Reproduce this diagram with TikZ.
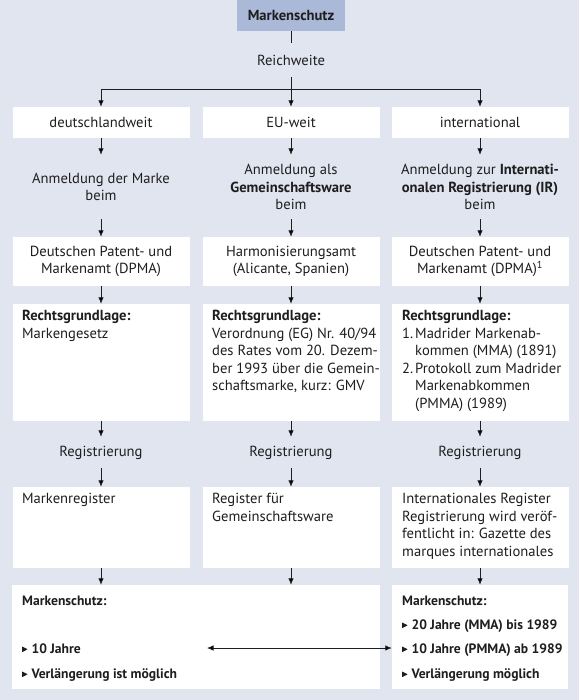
\documentclass[tikz,border=0pt]{standalone}
\usepackage{fontspec}
\setmainfont{PT Sans}
\usetikzlibrary{arrows.meta}
\definecolor{bgc}{RGB}{225,229,240}
\definecolor{topc}{RGB}{170,185,215}
\definecolor{txtc}{RGB}{30,30,30}
\newcommand{\bul}{\tikz[baseline=0pt]\fill[txtc] (0pt,0.9pt) -- (0pt,6.5pt) -- (5.4pt,3.7pt) -- cycle;\hspace{4pt}}
\newcommand{\ind}{\hspace*{13pt}}
\newcommand{\lab}[1]{\makebox[13pt][l]{#1}}
\newcommand{\bsz}{\fontsize{13.6}{17.5}\selectfont}
\begin{document}
\fontsize{14.6}{17.5}\selectfont
\begin{tikzpicture}[x=1pt,y=-1pt,
  box/.style={fill=white, inner sep=0pt, minimum width=177pt, align=center, text=txtc},
  lbl/.style={inner sep=0pt, minimum width=177pt, align=center, text=txtc},
  txt/.style={inner sep=0pt, align=left, anchor=north west, text=txtc},
  btxt/.style={inner sep=0pt, anchor=base west, text=txtc},
  arr/.style={-{Latex[length=6.5pt,width=5.5pt]}, line width=0.8pt, draw=txtc},
  dbl/.style={{Latex[length=6.5pt,width=5.5pt]}-{Latex[length=6.5pt,width=5.5pt]}, line width=0.8pt, draw=txtc},
  ln/.style={line width=0.8pt, draw=txtc}]
\fill[bgc] (0,0) rectangle (579,700);
\useasboundingbox (0,0) rectangle (579,700);

% top
\node[fill=topc, inner sep=0pt, minimum width=108pt, minimum height=31pt, text=txtc] (mk) at (291,15.5) {\textbf{Markenschutz}};
\node[lbl, minimum height=34pt] (rw) at (291,60) {Reichweite};
\coordinate (split) at (291,89);

% row 1
\node[box, minimum height=31pt] (r1a) at (101,122.5) {deutschlandweit};
\node[box, minimum height=31pt] (r1b) at (291,122.5) {EU-weit};
\node[box, minimum height=31pt] (r1c) at (480,122.5) {international};

% Anmeldung
\node[lbl, minimum height=64pt] (ana) at (101,187) {Anmeldung der Marke\\beim};
\node[lbl, minimum height=64pt] (anb) at (291,187) {Anmeldung als\\\textbf{Gemeinschaftsware}\\beim};
\node[lbl, minimum height=64pt] (anc) at (480,187) {Anmeldung zur \textbf{Internati-}\\\textbf{onalen Registrierung (IR)}\\beim};

% row 2
\node[box, minimum height=49pt] (r2a) at (101,261.5) {Deutschen Patent- und\\Markenamt (DPMA)};
\node[box, minimum height=49pt] (r2b) at (291,261.5) {Harmonisierungsamt\\(Alicante, Spanien)};
\node[box, minimum height=49pt] (r2c) at (480,261.5) {Deutschen Patent- und\\Markenamt (DPMA)\textsuperscript{1}};

% row 3
\node[box, minimum height=117pt] (r3a) at (101,362.5) {};
\node[box, minimum height=117pt] (r3b) at (291,362.5) {};
\node[box, minimum height=117pt] (r3c) at (480,362.5) {};
\node[txt] (t3a) at (22,310) {\textbf{Rechtsgrundlage:}\\Markengesetz};
\node[txt] (t3b) at (212,310) {\textbf{Rechtsgrundlage:}\\Verordnung (EG) Nr. 40/94\\des Rates vom 20. Dezem-\\ber 1993 über die Gemein-\\schaftsmarke, kurz: GMV};
\node[txt] (t3c) at (402,310) {\textbf{Rechtsgrundlage:}\\\lab{1.}Madrider Markenab-\\\ind kommen (MMA) (1891)\\\lab{2.}Protokoll zum Madrider\\\ind Markenabkommen\\\ind (PMMA) (1989)};

% Registrierung
\node[lbl, minimum height=31pt] (rga) at (101,452.5) {Registrierung};
\node[lbl, minimum height=31pt] (rgb) at (291,452.5) {Registrierung};
\node[lbl, minimum height=31pt] (rgc) at (480,452.5) {Registrierung};

% row 4
\node[box, minimum height=81pt] (r4a) at (101,527.5) {};
\node[box, minimum height=81pt] (r4b) at (291,527.5) {};
\node[box, minimum height=81pt] (r4c) at (480,527.5) {};
\node[txt] (t4a) at (22,493) {Markenregister};
\node[txt] (t4b) at (212,493) {Register für\\Gemeinschaftsware};
\node[txt] (t4c) at (402,493) {Internationales Register\\Registrierung wird veröf-\\fentlicht in: Gazette des\\marques internationales};

% row 5
\node[box, minimum width=368pt, minimum height=104pt] (r5a) at (196,637) {};
\node[box, minimum width=176pt, minimum height=104pt] (r5c) at (480,637) {};
\node[btxt] (m5a) at (22,605) {\bsz\textbf{Markenschutz:}};
\node[btxt] (b5a1) at (22,653) {\bsz\bul\textbf{10 Jahre}};
\node[btxt] (b5a2) at (22,678) {\bsz\bul\textbf{Verlängerung ist möglich}};
\node[btxt] (m5c) at (402,605) {\bsz\textbf{Markenschutz:}};
\node[btxt] (b5c1) at (402,629) {\bsz\bul\textbf{20 Jahre (MMA) bis 1989}};
\node[btxt] (b5c2) at (402,653) {\bsz\bul\textbf{10 Jahre (PMMA) ab 1989}};
\node[btxt] (b5c3) at (402,678) {\bsz\bul\textbf{Verlängerung möglich}};

% connectors
\draw[ln] (mk.south) -- (rw.north);
\draw[arr] (rw.south) -- (r1b.north);
\draw[arr] (split) -| (r1a.north);
\draw[arr] (split) -| (r1c.north);
\foreach \c in {a,b,c}{
  \draw[arr] (r1\c.south) -- (an\c.north);
  \draw[arr] (an\c.south) -- (r2\c.north);
  \draw[arr] (r2\c.south) -- (r3\c.north);
  \draw[arr] (r3\c.south) -- (rg\c.north);
  \draw[arr] (rg\c.south) -- (r4\c.north);
}
\draw[arr] (r4a.south) -- (r4a.south |- r5a.north);
\draw[arr] (r4b.south) -- (r4b.south |- r5a.north);
\draw[arr] (r4c.south) -- (r5c.north);
\coordinate (dl) at (207,648);
\draw[dbl] (dl) -- (r5c.west |- dl);
\end{tikzpicture}
\end{document}
